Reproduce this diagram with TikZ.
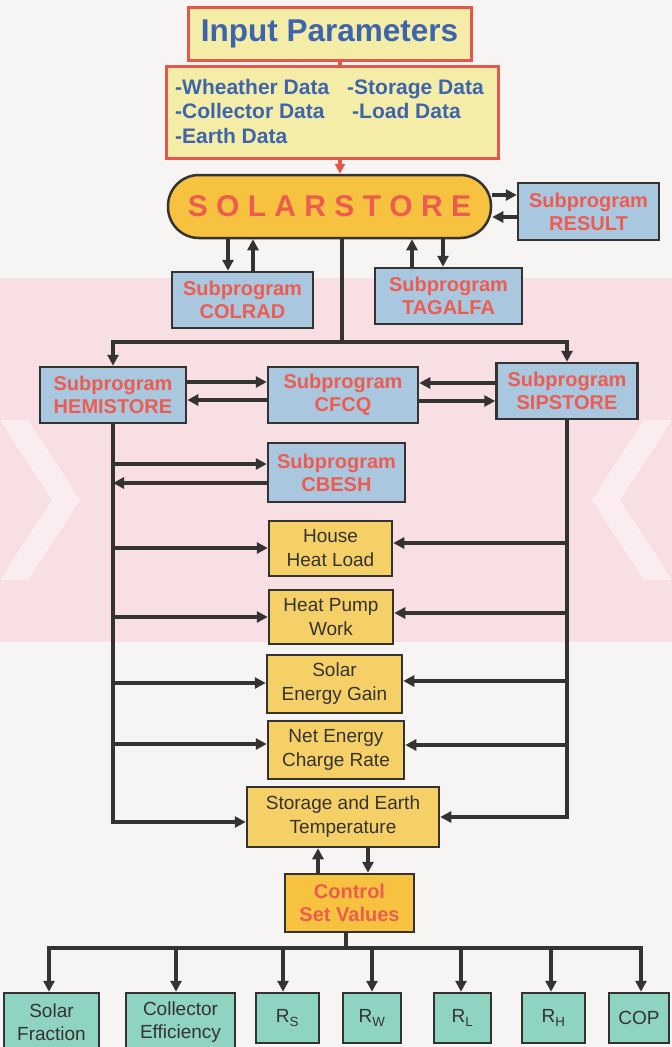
\documentclass[tikz,border=0pt]{standalone}
\usepackage{fontspec}
\setmainfont{Liberation Sans}
\usetikzlibrary{arrows.meta}
\definecolor{bg}{HTML}{F7F5F3}
\definecolor{pinkbg}{HTML}{F8DFE3}
\definecolor{inpfill}{HTML}{F3EDA8}
\definecolor{inpred}{HTML}{E5574C}
\definecolor{inpblue}{HTML}{3E64AE}
\definecolor{solfill}{HTML}{F6C23F}
\definecolor{subfill}{HTML}{A9C7DF}
\definecolor{subred}{HTML}{EE5C50}
\definecolor{outfill}{HTML}{F5D066}
\definecolor{resfill}{HTML}{8FD4C3}
\definecolor{ink}{HTML}{353232}
\begin{document}
\begin{tikzpicture}[x=1pt,y=-1pt,
  boxbase/.style={draw=ink, line width=2.5pt, inner sep=0pt, align=center},
  subbox/.style={boxbase, fill=subfill, text=subred, font=\fontsize{20}{23}\selectfont\bfseries},
  outbox/.style={boxbase, fill=outfill, text=ink, font=\fontsize{19}{24}\selectfont},
  resbox/.style={boxbase, fill=resfill, text=ink, font=\fontsize{19}{23}\selectfont},
  inpbox/.style={boxbase, draw=inpred, line width=3pt, fill=inpfill, text=inpblue},
  conn/.style={draw=ink, line width=3.3pt},
  arr/.style={conn, -{Triangle[length=11pt,width=11pt]}},
  redarr/.style={draw=inpred, line width=3.3pt, -{Triangle[length=10pt,width=10pt]}},
]
\useasboundingbox (0,0) rectangle (672,1047);
% background and watermark
\fill[bg] (0,0) rectangle (672,1047);
\fill[pinkbg] (0,278) rectangle (672,642);
\fill[white,opacity=0.45] (0,420) -- (28,420) -- (80,500) -- (28,580) -- (0,580) -- (52,500) -- cycle;
\fill[white,opacity=0.45] (672,420) -- (644,420) -- (592,500) -- (644,580) -- (672,580) -- (620,500) -- cycle;

% input
\node[inpbox, font=\fontsize{31.5}{31.5}\selectfont\bfseries, minimum width=283pt, minimum height=53pt] (inp) at (329.5,33.5) {Input Parameters};
\node[inpbox, minimum width=332pt, minimum height=92pt] (data) at (332,112) {};
\node[anchor=base west, inner sep=0pt, text=inpblue, font=\fontsize{21}{24.5}\selectfont\bfseries] (datatext) at (175,94)
  {\begin{tabular}[t]{@{}l@{\hspace{18pt}}l@{}}-Wheather Data & -Storage Data\\ -Collector Data & \hspace{5pt}-Load Data\\ -Earth Data & \end{tabular}};

% main program
\node[boxbase, fill=solfill, rounded corners=31pt, minimum width=323pt, minimum height=63pt, text=subred, font=\fontsize{30}{30}\selectfont\bfseries] (solar) at (329.5,206.5) {S O L A R S T O R E};

\node[subbox, minimum width=141pt, minimum height=57pt] (result) at (588.5,211.5) {Subprogram\\RESULT};
\node[subbox, minimum width=141pt, minimum height=56pt] (colrad) at (242.5,300) {Subprogram\\COLRAD};
\node[subbox, minimum width=147pt, minimum height=56pt] (tagalfa) at (448.5,296) {Subprogram\\TAGALFA};
\node[subbox, minimum width=146pt, minimum height=56pt] (hemi) at (113,395) {Subprogram\\HEMISTORE};
\node[subbox, minimum width=150pt, minimum height=56pt] (cfcq) at (343,395) {Subprogram\\CFCQ};
\node[subbox, minimum width=141pt, minimum height=56pt] (sip) at (567,391) {Subprogram\\SIPSTORE};
\node[subbox, minimum width=137pt, minimum height=59pt] (cbesh) at (336.5,472.5) {Subprogram\\CBESH};

\node[outbox, minimum width=123pt, minimum height=55pt] (house) at (330.5,548.5) {House\\Heat Load};
\node[outbox, minimum width=124pt, minimum height=54pt] (hpump) at (331,617) {Heat Pump\\Work};
\node[outbox, minimum width=135pt, minimum height=58pt] (sgain) at (334.5,684) {Solar\\Energy Gain};
\node[outbox, minimum width=136pt, minimum height=58pt] (net) at (336,750) {Net Energy\\Charge Rate};
\node[outbox, minimum width=192pt, minimum height=60pt] (stor) at (343,817) {Storage and Earth\\Temperature};
\node[boxbase, fill=solfill, text=subred, font=\fontsize{20}{23}\selectfont\bfseries, minimum width=129pt, minimum height=58pt] (ctrl) at (349.5,903) {Control\\Set Values};

\node[resbox, minimum width=95pt, minimum height=58pt] (sf) at (51.5,1022) {Solar\\Fraction};
\node[resbox, minimum width=109pt, minimum height=58pt] (ce) at (180.5,1022) {Collector\\Efficiency};
\node[resbox, minimum width=63pt, minimum height=50pt] (rs) at (287.5,1018) {R\textsubscript{S}};
\node[resbox, minimum width=58pt, minimum height=50pt] (rw) at (372,1018) {R\textsubscript{W}};
\node[resbox, minimum width=57pt, minimum height=50pt] (rl) at (462.5,1018) {R\textsubscript{L}};
\node[resbox, minimum width=63pt, minimum height=50pt] (rh) at (553.5,1018) {R\textsubscript{H}};
\node[resbox, minimum width=60pt, minimum height=50pt] (cop) at (639,1018) {COP};

% connectors top
\coordinate (xr) at (340,0);
\draw[draw=inpred, line width=3.3pt] (inp.south -| xr) -- (data.north -| xr);
\draw[redarr] (data.south -| xr) -- (solar.north -| xr);

\coordinate (y1) at (0,195);
\coordinate (y2) at (0,217);
\draw[arr] (solar.east |- y1) -- (result.west |- y1);
\draw[arr] (result.west |- y2) -- (solar.east |- y2);

\coordinate (xc1) at (228,0);
\coordinate (xc2) at (253,0);
\draw[arr] (solar.south -| xc1) -- (colrad.north -| xc1);
\draw[arr] (colrad.north -| xc2) -- (solar.south -| xc2);
\coordinate (xt1) at (412,0);
\coordinate (xt2) at (443,0);
\draw[arr] (tagalfa.north -| xt1) -- (solar.south -| xt1);
\draw[arr] (solar.south -| xt2) -- (tagalfa.north -| xt2);

\coordinate (bc) at (342,342);
\draw[conn] (solar.south -| bc) -- (bc);
\draw[arr] (bc) -| (hemi.north);
\draw[arr] (bc) -| (sip.north);

\coordinate (yh1) at (0,382);
\coordinate (yh2) at (0,400);
\coordinate (ys1) at (0,383);
\coordinate (ys2) at (0,401);
\draw[arr] (hemi.east |- yh1) -- (cfcq.west |- yh1);
\draw[arr] (cfcq.west |- yh2) -- (hemi.east |- yh2);
\draw[arr] (sip.west |- ys1) -- (cfcq.east |- ys1);
\draw[arr] (cfcq.east |- ys2) -- (sip.west |- ys2);

% side buses
\coordinate (lb) at (113,822);
\coordinate (rb) at (567,817);
\draw[arr] (hemi.south) -- (lb) -- (stor.west |- lb);
\draw[arr] (sip.south) -- (rb) -- (stor.east |- rb);

\coordinate (l1) at (113,464);
\coordinate (l2) at (113,483);
\draw[arr] (l1) -- (cbesh.west |- l1);
\draw[arr] (cbesh.west |- l2) -- (l2);

\coordinate (l3) at (113,548);
\coordinate (r3) at (567,543);
\draw[arr] (l3) -- (house.west |- l3);
\draw[arr] (r3) -- (house.east |- r3);
\coordinate (l4) at (113,617);
\coordinate (r4) at (567,613);
\draw[arr] (l4) -- (hpump.west |- l4);
\draw[arr] (r4) -- (hpump.east |- r4);
\coordinate (l5) at (113,683);
\coordinate (r5) at (567,681);
\draw[arr] (l5) -- (sgain.west |- l5);
\draw[arr] (r5) -- (sgain.east |- r5);
\coordinate (l6) at (113,744);
\coordinate (r6) at (567,745);
\draw[arr] (l6) -- (net.west |- l6);
\draw[arr] (r6) -- (net.east |- r6);

% storage <-> control
\coordinate (xs1) at (318,0);
\coordinate (xs2) at (368,0);
\draw[arr] (ctrl.north -| xs1) -- (stor.south -| xs1);
\draw[arr] (stor.south -| xs2) -- (ctrl.north -| xs2);

% bottom bus
\coordinate (bb) at (346,948);
\draw[conn] (ctrl.south -| bb) -- (bb);
\coordinate (d1) at (49,948);
\coordinate (d2) at (176,948);
\coordinate (d3) at (283,948);
\coordinate (d4) at (372,948);
\coordinate (d5) at (461,948);
\coordinate (d6) at (551,948);
\coordinate (d7) at (641,948);
\draw[arr] (bb) -| (d1 |- sf.north);
\draw[arr] (bb) -| (d7 |- cop.north);
\draw[arr] (d2) -- (d2 |- ce.north);
\draw[arr] (d3) -- (d3 |- rs.north);
\draw[arr] (d4) -- (d4 |- rw.north);
\draw[arr] (d5) -- (d5 |- rl.north);
\draw[arr] (d6) -- (d6 |- rh.north);
\end{tikzpicture}
\end{document}
